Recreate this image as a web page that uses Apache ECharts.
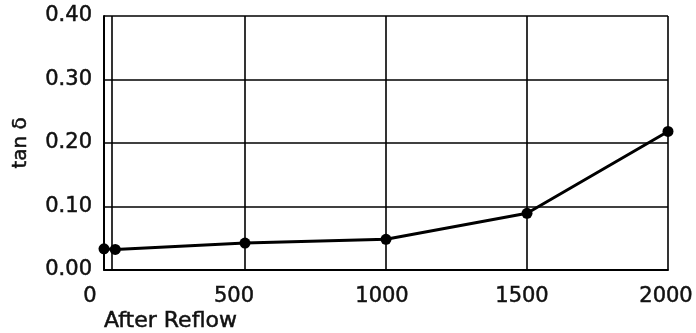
<!DOCTYPE html>
<html><head><meta charset="utf-8">
<script src="https://cdn.jsdelivr.net/npm/echarts@6/dist/echarts.min.js"></script>
<style>html,body{margin:0;padding:0;background:#fff}#c{width:696px;height:333px}</style>
</head><body><div id="c"></div>
<script>
var xValues = [0, 40, 500, 1000, 1500, 2000];
var tanDelta = [0.033, 0.032, 0.042, 0.048, 0.089, 0.218];
var xTicks = [0, 500, 1000, 1500, 2000];
var yTicks = ['0.00', '0.10', '0.20', '0.30', '0.40'];
var refLines = [26];
var xName = 'After Reflow';
var yName = 'tan δ';

// text styling (style only)
var FONT = 'DejaVu Sans';
var txt = {fontFamily: FONT, fontSize: 21, color: '#111', textBorderColor: '#111', textBorderWidth: 0.5};
var xLabelShift = {0: -14, 500: -11, 1000: -4, 1500: -5, 2000: -2};
var rich = {};
xTicks.forEach(function (t) {
  var s = xLabelShift[t] || 0;
  rich['t' + t] = Object.assign({}, txt, {
    padding: [0, s < 0 ? -2 * s : 0, 0, s > 0 ? 2 * s : 0]});
});

var chart = echarts.init(document.getElementById('c'), null, {renderer: 'canvas'});
chart.setOption({
  animation: false,
  backgroundColor: '#fff',
  grid: {left: 104, right: 28, top: 16, bottom: 62, containLabel: false},
  xAxis: {
    type: 'value', min: 0, max: 2000, interval: 500,
    name: xName, nameLocation: 'start', nameGap: 0,
    nameTextStyle: Object.assign({}, txt, {fontSize: 22, align: 'left', verticalAlign: 'top', padding: [41, 0, 0, 0]}),
    axisLine: {show: true, lineStyle: {color: '#000', width: 2}},
    axisTick: {show: false},
    splitLine: {show: true, lineStyle: {color: '#000', width: 1.6}},
    axisLabel: {margin: 16, formatter: function (v) { return '{t' + v + '|' + v + '}'; }, rich: rich}
  },
  yAxis: {
    type: 'value', min: 0, max: 0.4, interval: 0.1,
    name: yName, nameLocation: 'middle', nameGap: 73, nameRotate: 90,
    nameTextStyle: Object.assign({}, txt, {fontSize: 20}),
    axisLine: {show: true, lineStyle: {color: '#000', width: 2}},
    axisTick: {show: false},
    splitLine: {show: true, lineStyle: {color: '#000', width: 1.6}},
    axisLabel: Object.assign({}, txt, {margin: 12, padding: [4, 0, 0, 0],
      formatter: function (v) { return yTicks[Math.round(v * 10)]; }})
  },
  series: [{
    type: 'line',
    data: xValues.map(function (x, i) { return [x, tanDelta[i]]; }),
    symbol: 'circle', symbolSize: 11,
    lineStyle: {color: '#000', width: 3},
    itemStyle: {color: '#000'},
    markLine: {
      silent: true, symbol: ['none', 'none'], label: {show: false},
      lineStyle: {color: '#000', width: 1.6, type: 'solid'},
      data: refLines.map(function (v) { return {xAxis: v}; })
    }
  }]
});
</script></body></html>
